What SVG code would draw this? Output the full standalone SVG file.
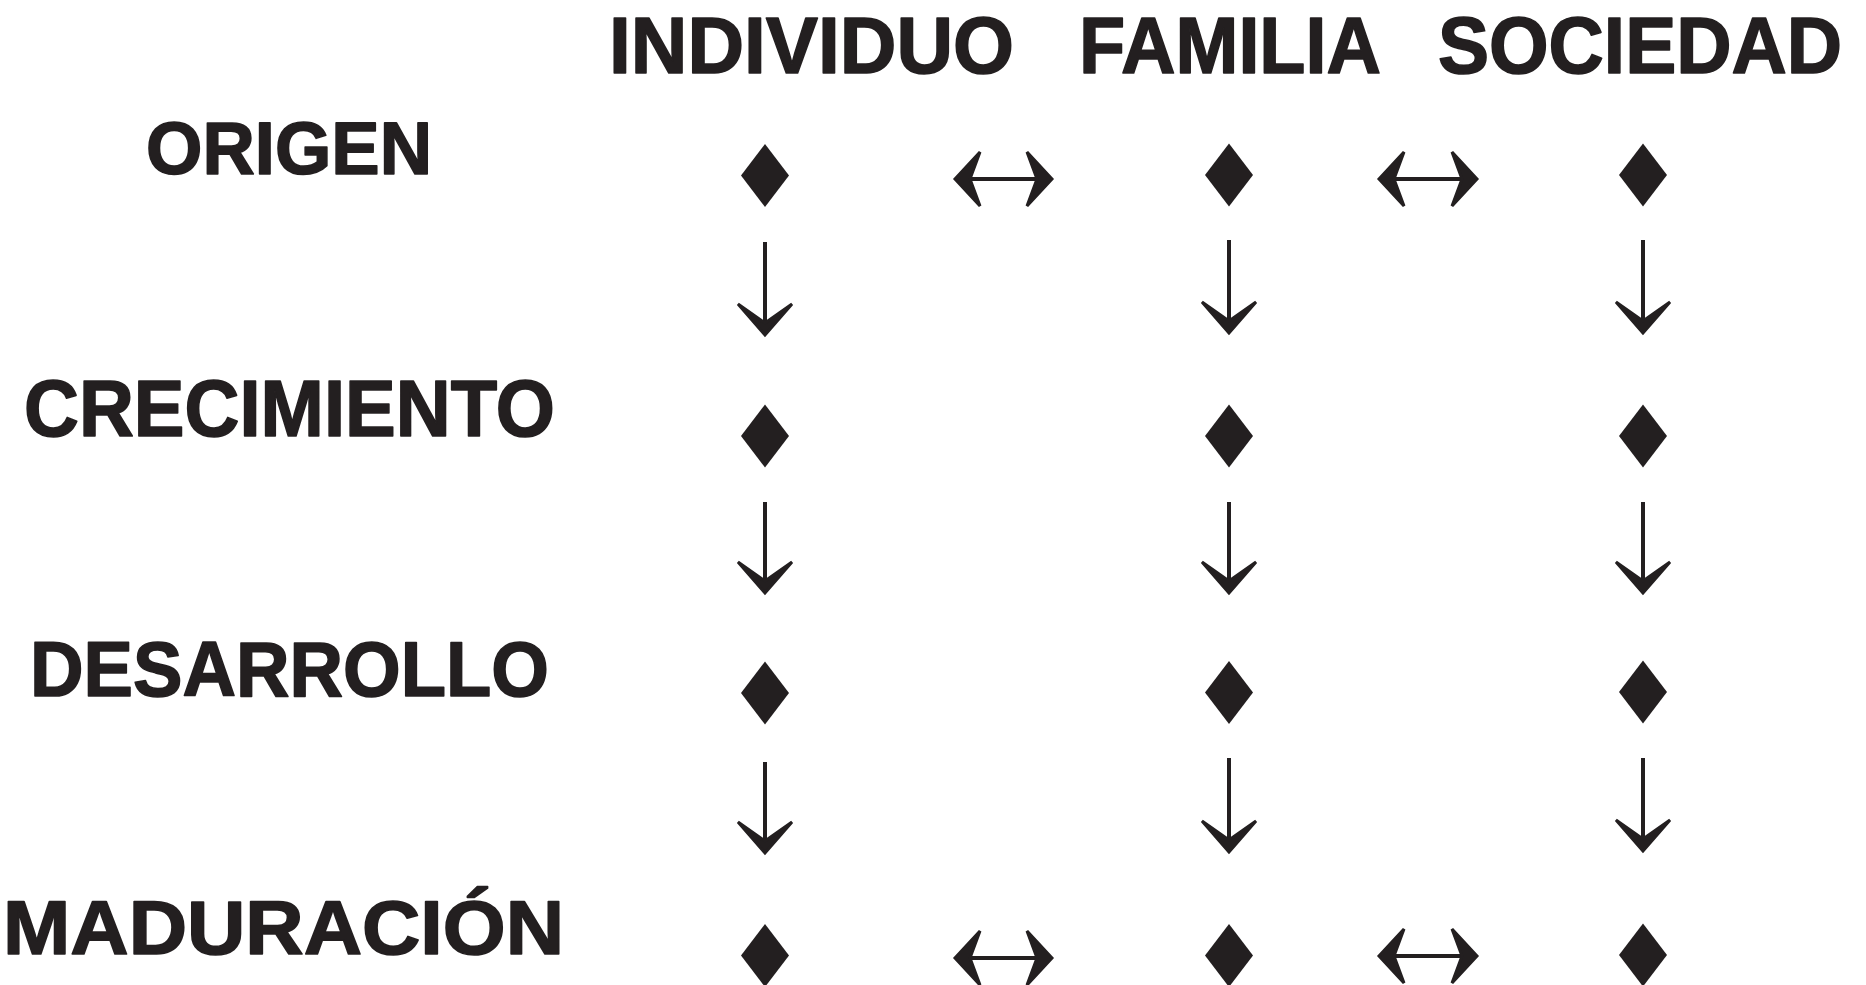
<svg xmlns="http://www.w3.org/2000/svg" width="1866" height="985" viewBox="0 0 1866 985">
<style>
.t{font-family:"Liberation Sans",Arial,sans-serif;font-weight:bold;fill:#231f20;stroke:#231f20;stroke-width:1.6;stroke-linejoin:round}
.h{font-size:80px}
.d{fill:#231f20}
.s{stroke:#231f20;stroke-width:4;fill:none}
.a{fill:#231f20;stroke:#231f20;stroke-width:3;stroke-linejoin:miter;stroke-miterlimit:3}
</style>
<defs>
<path id="dia" d="M0,-31.5 L24,0 L0,31.5 L-24,0 Z"/>
<path id="vhead" d="M0,-2 L-27,-33 L0,-14 L27,-33 Z"/>
<path id="hhead" d="M-2,0 L-27,-27 L-17,0 L-27,27 Z"/>
</defs>
<rect width="1866" height="985" fill="#ffffff"/>
<g id="headers">
<text class="t h" x="609" y="73" textLength="405" lengthAdjust="spacingAndGlyphs">INDIVIDUO</text>
<text class="t h" x="1079" y="73" textLength="302" lengthAdjust="spacingAndGlyphs">FAMILIA</text>
<text class="t h" x="1438" y="73" textLength="404" lengthAdjust="spacingAndGlyphs">SOCIEDAD</text>
</g>
<g id="row-labels">
<text class="t" x="146" y="174" font-size="74" textLength="286" lengthAdjust="spacingAndGlyphs">ORIGEN</text>
<text class="t" x="24" y="436" font-size="80" textLength="531" lengthAdjust="spacingAndGlyphs">CRECIMIENTO</text>
<text class="t" x="30" y="696" font-size="78" textLength="519" lengthAdjust="spacingAndGlyphs">DESARROLLO</text>
<text class="t" x="3" y="954" font-size="76" textLength="561" lengthAdjust="spacingAndGlyphs">MADURACIÓN</text>
</g>
<g id="n-individuo-origen"><use href="#dia" class="d" x="765" y="175.5"/></g>
<g id="n-familia-origen"><use href="#dia" class="d" x="1229" y="175"/></g>
<g id="n-sociedad-origen"><use href="#dia" class="d" x="1643" y="175"/></g>
<g id="n-individuo-crecimiento"><use href="#dia" class="d" x="765" y="436"/></g>
<g id="n-familia-crecimiento"><use href="#dia" class="d" x="1229" y="436"/></g>
<g id="n-sociedad-crecimiento"><use href="#dia" class="d" x="1643" y="436"/></g>
<g id="n-individuo-desarrollo"><use href="#dia" class="d" x="765" y="693"/></g>
<g id="n-familia-desarrollo"><use href="#dia" class="d" x="1229" y="692.5"/></g>
<g id="n-sociedad-desarrollo"><use href="#dia" class="d" x="1643" y="692"/></g>
<g id="n-individuo-maduracion"><use href="#dia" class="d" x="765" y="955.5"/></g>
<g id="n-familia-maduracion"><use href="#dia" class="d" x="1229" y="955.5"/></g>
<g id="n-sociedad-maduracion"><use href="#dia" class="d" x="1643" y="955"/></g>
<g id="connectors">
<line class="s" x1="765" y1="242" x2="765" y2="324"/>
<use href="#vhead" class="a" transform="translate(765,337)"/>
<line class="s" x1="765" y1="502" x2="765" y2="582"/>
<use href="#vhead" class="a" transform="translate(765,595)"/>
<line class="s" x1="765" y1="762" x2="765" y2="842"/>
<use href="#vhead" class="a" transform="translate(765,855)"/>
<line class="s" x1="1229" y1="240" x2="1229" y2="322"/>
<use href="#vhead" class="a" transform="translate(1229,335)"/>
<line class="s" x1="1229" y1="502" x2="1229" y2="582"/>
<use href="#vhead" class="a" transform="translate(1229,595)"/>
<line class="s" x1="1229" y1="758" x2="1229" y2="841"/>
<use href="#vhead" class="a" transform="translate(1229,854)"/>
<line class="s" x1="1643" y1="240" x2="1643" y2="322"/>
<use href="#vhead" class="a" transform="translate(1643,335)"/>
<line class="s" x1="1643" y1="502" x2="1643" y2="582"/>
<use href="#vhead" class="a" transform="translate(1643,595)"/>
<line class="s" x1="1643" y1="758" x2="1643" y2="840"/>
<use href="#vhead" class="a" transform="translate(1643,853)"/>
<line class="s" stroke-width="4.5" x1="968" y1="179" x2="1039" y2="179"/>
<use href="#hhead" class="a" transform="translate(953,179) rotate(180)"/>
<use href="#hhead" class="a" transform="translate(1054,179)"/>
<line class="s" stroke-width="4.5" x1="1392" y1="179" x2="1464" y2="179"/>
<use href="#hhead" class="a" transform="translate(1377,179) rotate(180)"/>
<use href="#hhead" class="a" transform="translate(1479,179)"/>
<line class="s" stroke-width="4.5" x1="968" y1="958" x2="1039" y2="958"/>
<use href="#hhead" class="a" transform="translate(953,958) rotate(180)"/>
<use href="#hhead" class="a" transform="translate(1054,958)"/>
<line class="s" stroke-width="4.5" x1="1392" y1="956" x2="1464" y2="956"/>
<use href="#hhead" class="a" transform="translate(1377,956) rotate(180)"/>
<use href="#hhead" class="a" transform="translate(1479,956)"/>
</g>
</svg>
